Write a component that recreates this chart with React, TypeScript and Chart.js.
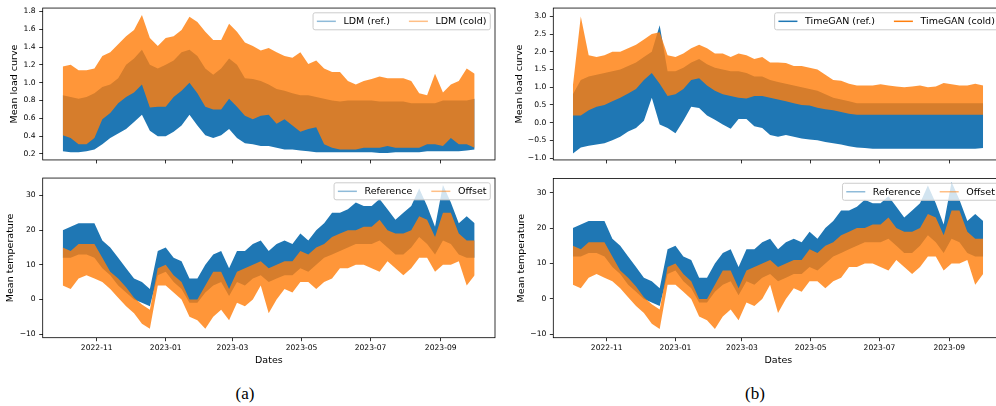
import React, { useEffect, useRef } from "react";
import { Chart, registerables } from "chart.js";

Chart.register(...registerables);

const FAMILY = '"DejaVu Sans", Verdana, sans-serif';
const BLUE = "#1f77b4";
const ORANGE = "rgba(255,127,14,0.82)";
const ORANGE_SOLID = "#ff7f0e";

// x categories: sample days (days since 2022-10-01), one sample per week 2022-10-02 .. 2023-10-01
const sampleDays: number[] = Array.from({ length: 53 }, (_, i) => 1 + 7 * i);

// month ticks (days since 2022-10-01)
const monthTickDays = [31, 92, 151, 212, 273, 335];
const monthTickLabels = ["2022-11", "2023-01", "2023-03", "2023-05", "2023-07", "2023-09"];

// y ticks
const loadTicksLDM = [0.2, 0.4, 0.6, 0.8, 1.0, 1.2, 1.4, 1.6, 1.8];
const loadTickLabelsLDM = ["0.2", "0.4", "0.6", "0.8", "1.0", "1.2", "1.4", "1.6", "1.8"];
const loadTicksTGAN = [-1.0, -0.5, 0.0, 0.5, 1.0, 1.5, 2.0, 2.5, 3.0];
const loadTickLabelsTGAN = ["\u22121.0", "\u22120.5", "0.0", "0.5", "1.0", "1.5", "2.0", "2.5", "3.0"];
const tempTicks = [-10, 0, 10, 20, 30];
const tempTickLabels = ["\u221210", "0", "10", "20", "30"];

// LDM (ref.) envelope (weekly max / min of the dense curve)
const ldmRefMax = [
  0.86, 0.84, 0.82, 0.84, 0.88, 0.95, 0.98, 1.05, 1.2, 1.27,
  1.37, 1.2, 1.16, 1.2, 1.25, 1.34, 1.37, 1.3, 1.16, 1.09,
  1.16, 1.27, 1.2, 1.05, 1.04, 1.02, 0.98, 0.93, 0.91, 0.88,
  0.86, 0.86, 0.84, 0.82, 0.8, 0.79, 0.8, 0.8, 0.8, 0.8,
  0.79, 0.79, 0.79, 0.79, 0.77, 0.77, 0.77, 0.77, 0.8, 0.8,
  0.8, 0.8, 0.82];
const ldmRefMin = [
  0.23, 0.22, 0.22, 0.23, 0.25, 0.31, 0.38, 0.43, 0.48, 0.56,
  0.64, 0.46, 0.4, 0.4, 0.45, 0.52, 0.64, 0.52, 0.41, 0.38,
  0.41, 0.48, 0.38, 0.32, 0.31, 0.29, 0.29, 0.27, 0.25, 0.25,
  0.24, 0.23, 0.22, 0.22, 0.22, 0.22, 0.22, 0.22, 0.22, 0.22,
  0.21, 0.21, 0.22, 0.22, 0.22, 0.22, 0.23, 0.23, 0.23, 0.23,
  0.23, 0.24, 0.25];
// LDM (cold)
const ldmColdMax = [
  1.18, 1.2, 1.14, 1.14, 1.16, 1.3, 1.34, 1.43, 1.52, 1.59,
  1.76, 1.5, 1.41, 1.5, 1.52, 1.59, 1.74, 1.68, 1.57, 1.48,
  1.48, 1.66, 1.57, 1.45, 1.41, 1.36, 1.39, 1.34, 1.3, 1.28,
  1.34, 1.21, 1.25, 1.16, 1.12, 1.12, 1.02, 0.98, 1.02, 1.04,
  1.07, 1.05, 1.05, 1.05, 1.02, 0.88, 0.86, 1.1, 0.89, 0.98,
  1.02, 1.16, 1.1];
const ldmColdMin = [
  0.41, 0.38, 0.31, 0.31, 0.38, 0.59, 0.66, 0.77, 0.84, 0.89,
  0.98, 0.72, 0.73, 0.73, 0.84, 0.91, 1.0, 0.88, 0.73, 0.7,
  0.7, 0.82, 0.73, 0.63, 0.59, 0.63, 0.64, 0.54, 0.59, 0.52,
  0.45, 0.48, 0.5, 0.31, 0.27, 0.25, 0.25, 0.25, 0.27, 0.27,
  0.27, 0.29, 0.27, 0.27, 0.27, 0.27, 0.31, 0.31, 0.29, 0.38,
  0.31, 0.31, 0.27];

// TimeGAN (ref.)
const tganRefMax = [
  0.8, 1.2, 1.3, 1.35, 1.4, 1.45, 1.5, 1.6, 1.7, 1.85,
  2.0, 2.75, 1.45, 1.45, 1.55, 1.7, 1.8, 1.65, 1.55, 1.5,
  1.45, 1.45, 1.4, 1.3, 1.3, 1.2, 1.15, 1.1, 1.05, 1.0,
  0.95, 0.9, 0.8, 0.7, 0.65, 0.6, 0.55, 0.55, 0.55, 0.55,
  0.55, 0.55, 0.55, 0.55, 0.55, 0.55, 0.55, 0.55, 0.55, 0.55,
  0.55, 0.55, 0.55];
const tganRefMin = [
  -0.87, -0.7, -0.65, -0.62, -0.58, -0.5, -0.4, -0.25, -0.15, 0.05,
  0.7, -0.05, -0.15, -0.3, 0.05, 0.45, 0.41, 0.2, 0.08, -0.05,
  -0.17, 0.1, 0.1, -0.1, -0.15, -0.35, -0.4, -0.35, -0.4, -0.45,
  -0.48, -0.5, -0.55, -0.58, -0.62, -0.67, -0.7, -0.72, -0.74, -0.74,
  -0.74, -0.74, -0.74, -0.74, -0.74, -0.74, -0.74, -0.74, -0.74, -0.74,
  -0.74, -0.74, -0.72];
// TimeGAN (cold)
const tganColdMax = [
  1.05, 3.0, 1.9, 1.85, 1.9, 2.0, 2.0, 2.1, 2.2, 2.35,
  2.5, 2.55, 1.9, 1.85, 1.95, 2.1, 2.2, 2.1, 1.95, 1.95,
  1.85, 1.95, 1.9, 1.8, 1.85, 1.7, 1.7, 1.68, 1.6, 1.6,
  1.55, 1.5, 1.35, 1.2, 1.18, 1.1, 1.05, 1.05, 1.05, 1.08,
  1.05, 1.02, 1.0, 1.02, 1.05, 1.0, 1.02, 1.12, 1.08, 1.05,
  1.05, 1.1, 1.05];
const tganColdMin = [
  0.2, 0.2, 0.35, 0.45, 0.5, 0.6, 0.7, 0.82, 0.95, 1.2,
  1.4, 1.1, 0.75, 0.8, 0.95, 1.2, 1.25, 1.05, 0.9, 0.8,
  0.75, 0.7, 0.68, 0.75, 0.75, 0.7, 0.65, 0.6, 0.55, 0.5,
  0.48, 0.42, 0.38, 0.35, 0.3, 0.25, 0.22, 0.22, 0.22, 0.22,
  0.22, 0.22, 0.22, 0.22, 0.22, 0.22, 0.22, 0.22, 0.22, 0.22,
  0.22, 0.22, 0.22];

// Mean temperature: Reference and Offset
const tempRefMax = [
  20, 21, 22, 22, 22, 17, 15, 12, 9, 6,
  5, 3, 14, 15, 12, 11, 6, 6, 10, 13,
  14, 9, 14, 14, 16, 17, 14, 16, 17, 16,
  19, 17, 20, 22, 25, 25, 26, 28, 27, 27,
  29, 26, 23, 25, 27, 32, 27, 21, 33, 28,
  22, 24, 22];
const tempRefMin = [
  12, 12, 13, 13, 12, 9, 7, 4, 2, 0,
  -1, -2, 7, 8, 5, 3, -1, -1, 2, 4,
  5, 1, 5, 4, 6, 7, 5, 6, 7, 7,
  9, 8, 10, 12, 13, 14, 15, 16, 16, 16,
  17, 15, 13, 13, 15, 18, 16, 13, 17, 16,
  13, 12, 12];
const tempOffMax = [
  15, 14, 16, 16, 16, 12, 8, 6, 3.5, 0.5,
  -1.5, -3, 9, 10, 7, 5, 0, 0, 4, 8,
  8, 3, 8, 9, 10, 11, 9, 10, 11, 11,
  14, 13, 15, 16, 18, 19, 20, 20, 21, 21,
  23, 20, 19, 19, 20, 24, 23, 18, 25, 25,
  19, 17, 17];
const tempOffMin = [
  4, 3, 6, 7, 6, 5, 3, 0.5, -2, -4,
  -7, -8.5, 4, 4, 2, 0, -5, -6, -8.5, -5,
  -3, -6, -1, -2, 0, 4, -4, 0, 3, 2,
  5, 5, 3, 5, 6, 9, 9, 10, 10, 9,
  8, 11, 9, 7, 9, 12, 12, 8, 10, 10,
  11, 4, 7];

type Band = { max: number[]; min: number[] };
type PanelCfg = {
  left: number; top: number; width: number; height: number;
  yAxisWidth: number; padTop: number; padRight: number; xAxisHeight: number;
  xMin: number; xMax: number; yMin: number; yMax: number;
  yTicks: number[]; yTickLabels: string[]; yTitle: string; yTitlePad: number;
  showXLabels: boolean;
  ref: Band; other: Band; legend: [string, string]; handleAlpha: number;
};

const pts = (arr: number[]) => sampleDays.map((d, i) => ({ x: d, y: arr[i] }));

function legendPlugin(labels: [string, string], handleAlpha: number) {
  return {
    id: "mplLegend",
    afterDraw(chart: any) {
      const { ctx, chartArea: a } = chart;
      const fs = 9.5;
      ctx.save();
      ctx.font = `${fs}px ${FAMILY}`;
      const pad = 0.4 * fs, hl = 2 * fs, htp = 0.8 * fs, cs = 2 * fs, axpad = 0.5 * fs;
      const widths = labels.map((t) => ctx.measureText(t).width);
      const w = 2 * pad + widths.reduce((s, tw) => s + hl + htp + tw, 0) + cs * (labels.length - 1);
      const h = 17;
      const x0 = a.right - axpad - w;
      const y0 = a.top + axpad;
      ctx.beginPath();
      if (ctx.roundRect) ctx.roundRect(x0, y0, w, h, 2);
      else ctx.rect(x0, y0, w, h);
      ctx.fillStyle = "rgba(255,255,255,0.8)";
      ctx.fill();
      ctx.strokeStyle = "#cccccc";
      ctx.lineWidth = 1;
      ctx.stroke();
      let x = x0 + pad;
      const cy = y0 + h / 2;
      const colors = [BLUE, ORANGE_SOLID];
      labels.forEach((t, k) => {
        ctx.globalAlpha = handleAlpha;
        ctx.strokeStyle = colors[k];
        ctx.lineWidth = 1.5;
        ctx.beginPath();
        ctx.moveTo(x, cy);
        ctx.lineTo(x + hl, cy);
        ctx.stroke();
        ctx.globalAlpha = 1;
        x += hl + htp;
        ctx.fillStyle = "#000";
        ctx.textBaseline = "middle";
        ctx.textAlign = "left";
        ctx.fillText(t, x, cy + 0.5);
        x += widths[k] + cs;
      });
      ctx.restore();
    },
  };
}

const framePlugin = {
  id: "frame",
  afterDatasetsDraw(chart: any) {
    const { ctx, chartArea: a } = chart;
    ctx.save();
    ctx.strokeStyle = "#000";
    ctx.lineWidth = 0.8;
    ctx.strokeRect(a.left, a.top, a.right - a.left, a.bottom - a.top);
    ctx.restore();
  },
};

function Panel({ cfg }: { cfg: PanelCfg }) {
  const ref = useRef<HTMLCanvasElement | null>(null);
  useEffect(() => {
    if (!ref.current) return;
    const mk = (data: number[], color: string, fill: any, order: number) => ({
      data: pts(data),
      borderColor: "transparent",
      borderWidth: 1,
      backgroundColor: color,
      fill,
      pointRadius: 0,
      tension: 0,
      order,
    });
    const chart = new Chart(ref.current, {
      type: "line",
      data: {
        datasets: [
          mk(cfg.ref.max, BLUE, "+1", 2),
          mk(cfg.ref.min, BLUE, false, 2),
          mk(cfg.other.max, ORANGE, "+1", 1),
          mk(cfg.other.min, ORANGE, false, 1),
        ] as any,
      },
      options: {
        animation: false,
        responsive: false,
        devicePixelRatio: 1,
        events: [],
        layout: { padding: { top: cfg.padTop, right: cfg.padRight, left: 0, bottom: 0 } },
        plugins: { legend: { display: false }, tooltip: { enabled: false } },
        scales: {
          x: {
            type: "linear",
            min: cfg.xMin,
            max: cfg.xMax,
            afterBuildTicks: (s: any) => { s.ticks = monthTickDays.map((v) => ({ value: v })); },
            afterFit: (s: any) => { s.height = cfg.xAxisHeight; },
            ticks: {
              display: cfg.showXLabels,
              autoSkip: false,
              maxRotation: 0,
              padding: 2.5,
              color: "#000",
              font: { family: FAMILY, size: 7.6 },
              callback: (_v: any, i: number) => monthTickLabels[i],
            },
            grid: { drawOnChartArea: false, drawTicks: true, tickLength: 3.5, color: "#000", lineWidth: 0.8 },
            border: { display: false },
            title: {
              display: cfg.showXLabels,
              text: "Dates",
              color: "#000",
              font: { family: FAMILY, size: 9.5 },
              padding: { top: 0, bottom: 3.6 },
            },
          },
          y: {
            type: "linear",
            min: cfg.yMin,
            max: cfg.yMax,
            afterBuildTicks: (s: any) => { s.ticks = cfg.yTicks.map((v) => ({ value: v })); },
            afterFit: (s: any) => { s.width = cfg.yAxisWidth; },
            ticks: {
              padding: 3.5,
              color: "#000",
              font: { family: FAMILY, size: 7.6 },
              callback: (_v: any, i: number) => cfg.yTickLabels[i],
            },
            grid: { drawOnChartArea: false, drawTicks: true, tickLength: 3.5, color: "#000", lineWidth: 0.8 },
            border: { display: false },
            title: {
              display: true,
              text: cfg.yTitle,
              color: "#000",
              font: { family: FAMILY, size: 9.5 },
              padding: { top: cfg.yTitlePad, bottom: 0 },
            },
          },
        },
      } as any,
      plugins: [framePlugin, legendPlugin(cfg.legend, cfg.handleAlpha)],
    });
    return () => chart.destroy();
  }, [cfg]);
  return (
    <div style={{ position: "absolute", left: cfg.left, top: cfg.top, width: cfg.width, height: cfg.height }}>
      <canvas ref={ref} width={cfg.width} height={cfg.height} style={{ display: "block", width: cfg.width, height: cfg.height }} />
    </div>
  );
}

const panels: PanelCfg[] = [
  {
    left: 0, top: 0, width: 500, height: 168,
    yAxisWidth: 42.7, padTop: 3.3, padRight: 5, xAxisHeight: 5,
    xMin: -16.7, xMax: 383, yMin: 0.133, yMax: 1.837,
    yTicks: loadTicksLDM, yTickLabels: loadTickLabelsLDM, yTitle: "Mean load curve", yTitlePad: 8.8,
    showXLabels: false,
    ref: { max: ldmRefMax, min: ldmRefMin }, other: { max: ldmColdMax, min: ldmColdMin },
    legend: ["LDM (ref.)", "LDM (cold)"], handleAlpha: 0.5,
  },
  {
    left: 0, top: 170, width: 500, height: 200,
    yAxisWidth: 42.7, padTop: 6.7, padRight: 5, xAxisHeight: 32.3,
    xMin: -16.7, xMax: 383, yMin: -11.06, yMax: 35.04,
    yTicks: tempTicks, yTickLabels: tempTickLabels, yTitle: "Mean temperature", yTitlePad: 5.1,
    showXLabels: true,
    ref: { max: tempRefMax, min: tempRefMin }, other: { max: tempOffMax, min: tempOffMin },
    legend: ["Reference", "Offset"], handleAlpha: 0.5,
  },
  {
    left: 498, top: 0, width: 520, height: 168,
    yAxisWidth: 55.3, padTop: 5.3, padRight: 14.6, xAxisHeight: 3.7,
    xMin: -16.4, xMax: 383, yMin: -1.054, yMax: 3.235,
    yTicks: loadTicksTGAN, yTickLabels: loadTickLabelsTGAN, yTitle: "Mean load curve", yTitlePad: 16.3,
    showXLabels: false,
    ref: { max: tganRefMax, min: tganRefMin }, other: { max: tganColdMax, min: tganColdMin },
    legend: ["TimeGAN (ref.)", "TimeGAN (cold)"], handleAlpha: 1,
  },
  {
    left: 498, top: 170, width: 520, height: 200,
    yAxisWidth: 55.3, padTop: 8.5, padRight: 14.6, xAxisHeight: 32.3,
    xMin: -16.4, xMax: 383, yMin: -10.96, yMax: 34.01,
    yTicks: tempTicks, yTickLabels: tempTickLabels, yTitle: "Mean temperature", yTitlePad: 18,
    showXLabels: true,
    ref: { max: tempRefMax, min: tempRefMin }, other: { max: tempOffMax, min: tempOffMin },
    legend: ["Reference", "Offset"], handleAlpha: 0.5,
  },
];

const captionStyle = (cx: number): React.CSSProperties => ({
  position: "absolute",
  left: cx - 50,
  top: 384.75,
  width: 100,
  textAlign: "center",
  fontFamily: '"Liberation Serif", "Times New Roman", serif',
  fontSize: 17,
  lineHeight: "17px",
  color: "#000",
});

export default function App() {
  return (
    <div style={{ position: "fixed", left: 0, top: 0, width: 996, height: 406, overflow: "hidden", background: "#fff" }}>
      {panels.map((p, i) => (
        <Panel key={i} cfg={p} />
      ))}
      <div style={captionStyle(245)}>(a)</div>
      <div style={captionStyle(755)}>(b)</div>
    </div>
  );
}
